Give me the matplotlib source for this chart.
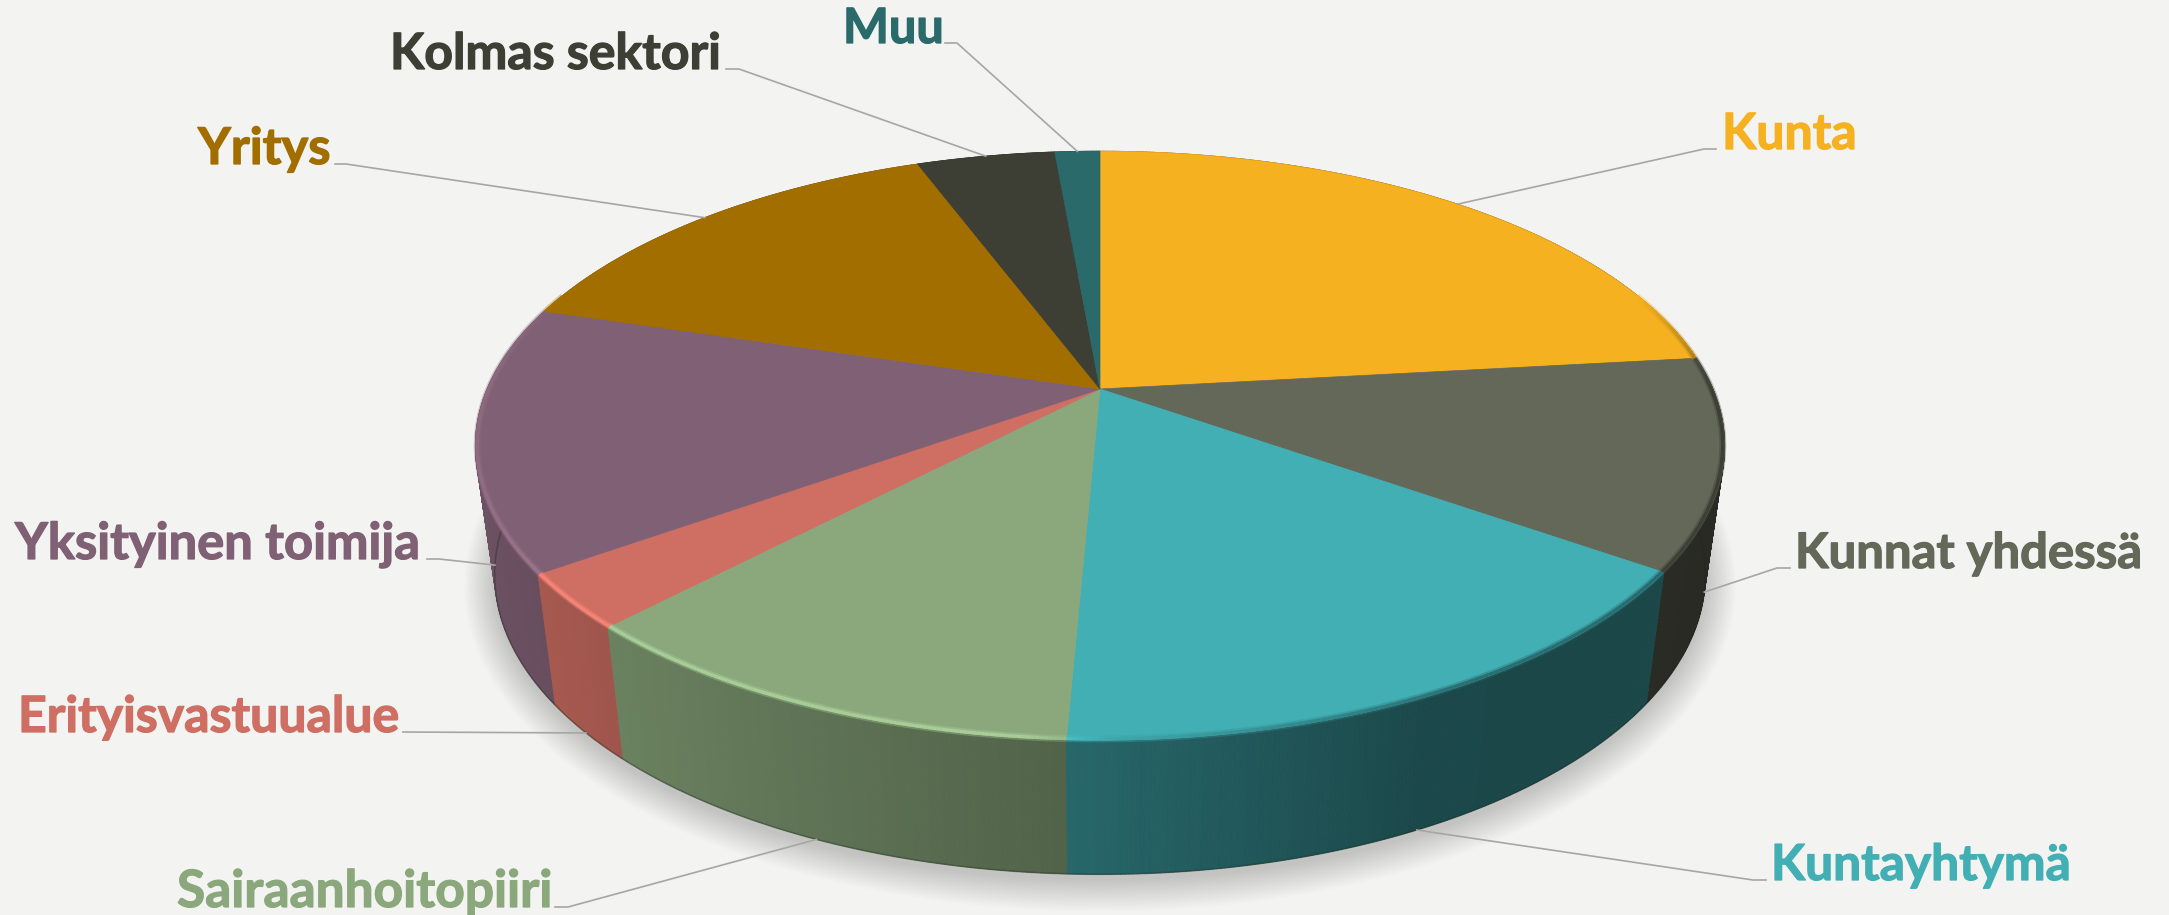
import matplotlib
matplotlib.use('Agg')
import matplotlib.pyplot as plt
import matplotlib.patheffects as pe
import numpy as np
from matplotlib.collections import PolyCollection, LineCollection
from matplotlib.colors import to_rgb

# Data (share of each group)
labels = ['Kunta', 'Kunnat yhdessä', 'Kuntayhtymä', 'Sairaanhoitopiiri', 'Erityisvastuualue',
          'Yksityinen toimija', 'Yritys', 'Kolmas sektori', 'Muu']
values = [23.2, 11.5, 15.93, 11.42, 3.0, 14.5, 14.6, 4.3, 1.4]
colors = ['#F6B120', '#646858', '#42AFB4', '#8AA87C', '#CF6E62', '#806074', '#A26E00', '#3D3E34', '#2A6A6B']

# Label placement in pixels: text left, baseline, size, leader elbow, and how far down the wall the leader ends
label_x = [1722, 1795, 1771, 177, 18, 15, 198, 390, 843]
label_y = [149, 568, 880, 907, 732, 559, 164, 69, 43]
label_size = [36, 35.3, 35.8, 37, 36, 36.5, 36.5, 36, 35]
elbow_x = [1704, 1777, 1753, 568, 403, 439, 346, 739, 957]
stub_x = [1716, 1790, 1766, 555, 403, 427, 335, 726, 945]
wall_frac = [0, 1, 1, 1, 1, 1, 0, 0, 0]

BG = '#F3F3F1'
W, H = 2169, 915
CX = 1100
PERSP = 0.1925


def project(theta, r=1.0, bottom=False):
    # theta clockwise from 12 o'clock, perspective view of a disc
    u = r * np.sin(theta)
    v = r * np.cos(theta)
    w = 1 + PERSP * v
    if bottom:
        return CX + 594 * u / w, 516.8 - 288.7 * v / w
    return CX + 613 * u / w, 389 - 283.6 * v / w


def wall_shade(u):
    return np.interp(u, [-1, -0.8, -0.05, 0.45, 1], [0.86, 0.8, 0.59, 0.41, 0.40])


def rim_light(u):
    return np.interp(u, [-1, -0.8, -0.1, 0.02, 0.5, 1], [0.12, 0.25, 0.25, -0.05, -0.4, -0.45])


fracs = np.array(values) / np.sum(values)
edges = np.concatenate([[0], np.cumsum(fracs)]) * 2 * np.pi

fig = plt.figure(figsize=(W / 100, H / 100), dpi=100, facecolor=BG)
ax = fig.add_axes([0, 0, 1, 1])
ax.set_xlim(0, W)
ax.set_ylim(H, 0)
ax.axis('off')

# soft shadow under the pie
all_t = np.linspace(0, 2 * np.pi, 400)
bx, by = project(all_t, bottom=True)
for grow in np.linspace(30, 0, 24):
    sx = CX + (bx - CX) * (1 + grow / 594)
    sy = 516.8 + 6 + (by - 516.8) * (1 + grow / 340)
    ax.fill(sx, sy, color='black', alpha=0.0065, lw=0, zorder=1)

# side wall, far strips first
quads, quad_cols, quad_v = [], [], []
for i in range(len(values)):
    base = np.array(to_rgb(colors[i]))
    n = max(int((edges[i + 1] - edges[i]) / 0.006), 2)
    t = np.linspace(edges[i], edges[i + 1], n + 1)
    tx, ty = project(t)
    lx, ly = project(t, bottom=True)
    for k in range(n):
        quads.append([(tx[k], ty[k]), (tx[k + 1], ty[k + 1]), (lx[k + 1], ly[k + 1]), (lx[k], ly[k])])
        quad_cols.append(base * wall_shade(np.sin(t[k])))
        quad_v.append(np.cos(t[k]))
order = np.argsort(quad_v)[::-1]
ax.add_collection(PolyCollection([quads[j] for j in order],
                                 facecolors=[quad_cols[j] for j in order],
                                 edgecolors=[quad_cols[j] for j in order],
                                 linewidths=0.6, zorder=2))

# dark line along the foot of the wall
t = np.linspace(np.pi * 0.45, np.pi * 1.55, 300)
lx, ly = project(t, bottom=True)
ax.plot(lx, ly, color='#1E2A1E', alpha=0.35, lw=1.2, zorder=3)

# top face
for i in range(len(values)):
    t = np.linspace(edges[i], edges[i + 1], 160)
    tx, ty = project(t)
    ax.fill(np.r_[CX, tx], np.r_[389, ty], facecolor=colors[i], edgecolor=colors[i], lw=0.5, zorder=4)

# bevel along the front rim, fading out towards the back
for i in range(len(values)):
    base = np.array(to_rgb(colors[i]))
    t = np.linspace(edges[i], edges[i + 1], 120)
    t = t[np.cos(t) < 0.35]
    if len(t) < 2:
        continue
    tx, ty = project(t, r=0.997)
    segs = [[(tx[k], ty[k]), (tx[k + 1], ty[k + 1])] for k in range(len(t) - 1)]
    seg_cols = []
    for k in range(len(t) - 1):
        fade = np.interp(np.cos(t[k]), [0.0, 0.35], [1, 0])
        h = rim_light(np.sin(t[k])) * fade
        seg_cols.append(np.clip(base * (1 + h), 0, 1))
    ax.add_collection(LineCollection(segs, colors=seg_cols, linewidths=5, alpha=0.35, zorder=5))
    ax.add_collection(LineCollection(segs, colors=seg_cols, linewidths=2.4, alpha=0.85, zorder=5))

# labels and leader lines
for i in range(len(values)):
    mid = (edges[i] + edges[i + 1]) / 2
    tx, ty = project(mid)
    lx, ly = project(mid, bottom=True)
    end_x = tx + (lx - tx) * wall_frac[i]
    end_y = ty + (ly - ty) * wall_frac[i]
    ax.plot([stub_x[i], elbow_x[i], end_x], [label_y[i], label_y[i], end_y],
            color='#A6A6A6', lw=1.2, zorder=6, solid_joinstyle='round')
    ax.text(label_x[i], label_y[i], labels[i], color=colors[i], family='Lato', weight='bold',
            fontsize=label_size[i], ha='left', va='baseline', zorder=7,
            path_effects=[pe.withStroke(linewidth=0.9, foreground=colors[i])])

plt.savefig('out.png', dpi=100, facecolor=BG)
